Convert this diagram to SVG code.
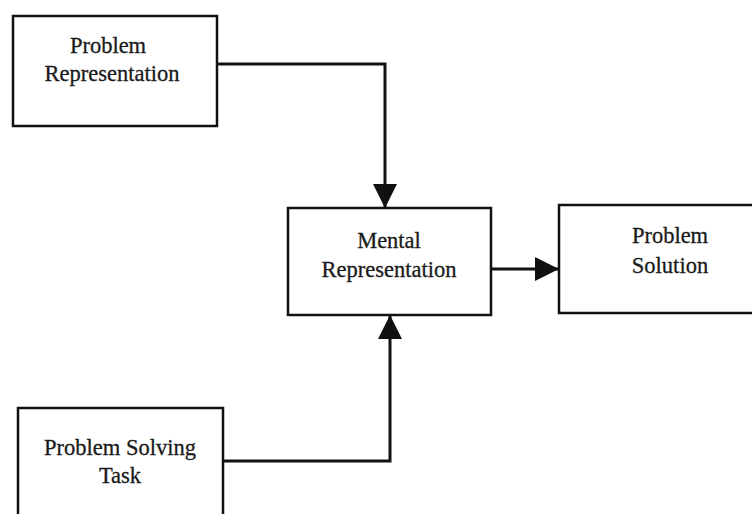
<svg xmlns="http://www.w3.org/2000/svg" width="752" height="514" viewBox="0 0 752 514">
<defs>
<style>
.box{fill:#fff;stroke:#111;stroke-width:2.5}
.lbl{font-family:"Liberation Serif","Times New Roman",serif;font-size:22.5px;fill:#1a1a1a;stroke:#1a1a1a;stroke-width:0.3;text-anchor:middle}
.con{fill:none;stroke:#111;stroke-width:3}
</style>
<marker id="ah" viewBox="0 0 24 24" refX="24" refY="12" markerWidth="24" markerHeight="24" markerUnits="userSpaceOnUse" orient="auto">
<path d="M0,0 L24,12 L0,24 Z" fill="#111"/>
</marker>
</defs>
<rect width="752" height="514" fill="#fff"/>
<g id="connectors">
<path class="con" d="M217,64 H385 V208" marker-end="url(#ah)"/>
<path class="con" d="M491,269 H559" marker-end="url(#ah)"/>
<path class="con" d="M223,461 H390 V315" marker-end="url(#ah)"/>
</g>
<g id="problem-representation">
<rect class="box" x="13" y="16" width="204" height="110"/>
<text class="lbl" x="108" y="53">Problem</text>
<text class="lbl" x="112" y="81">Representation</text>
</g>
<g id="mental-representation">
<rect class="box" x="288" y="208" width="203" height="107"/>
<text class="lbl" x="389" y="248">Mental</text>
<text class="lbl" x="389" y="277">Representation</text>
</g>
<g id="problem-solution">
<rect class="box" x="559" y="205" width="200" height="108"/>
<text class="lbl" x="670" y="243">Problem</text>
<text class="lbl" x="670" y="273">Solution</text>
</g>
<g id="problem-solving-task">
<rect class="box" x="18" y="408" width="205" height="120"/>
<text class="lbl" x="120" y="455">Problem Solving</text>
<text class="lbl" x="120" y="483">Task</text>
</g>
</svg>
